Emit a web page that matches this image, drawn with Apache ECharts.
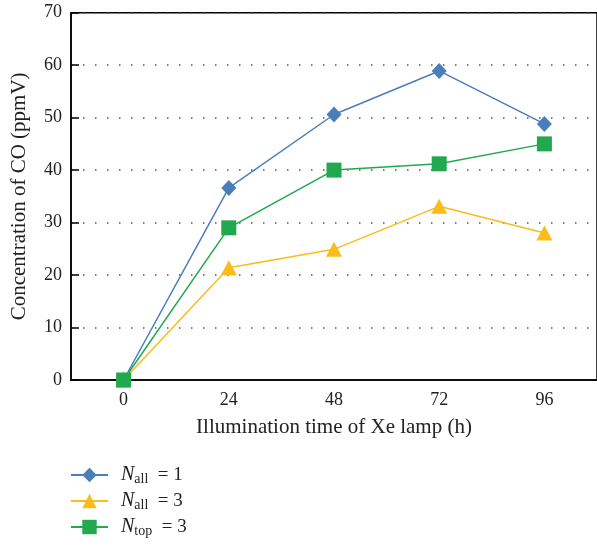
<!DOCTYPE html>
<html>
<head>
<meta charset="utf-8">
<script src="https://cdn.jsdelivr.net/npm/echarts@6/dist/echarts.min.js"></script>
<style>html,body{margin:0;padding:0;background:#fff;}#c{width:597px;height:548px;}</style>
</head>
<body>
<div id="c"></div>
<script>
const categories = ['0', '24', '48', '72', '96'];
const yTicks = [0, 10, 20, 30, 40, 50, 60, 70];
const seriesNames = ['N_all = 1', 'N_all = 3', 'N_top = 3'];
const nAll1 = [0, 36.6, 50.6, 58.9, 48.8];
const nAll3 = [0, 21.4, 24.9, 33.1, 28.0];
const nTop3 = [0, 29.0, 40.0, 41.2, 45.0];

const FONT = '"Liberation Serif", "DejaVu Serif", serif';
const colors = ['#4A7EBB', '#F9BC1B', '#22A84F'];
const symbols = ['diamond', 'triangle', 'rect'];
const sizes = [[15, 16], [16, 15], [15, 15]];
const values = [nAll1, nAll3, nTop3];

const chart = echarts.init(document.getElementById('c'));
chart.setOption({
  animation: false,
  backgroundColor: '#fff',
  grid: { left: 71, right: -6, top: 12.7, bottom: 168, show: true, borderColor: '#000', borderWidth: 1.5 },
  xAxis: {
    type: 'category',
    data: categories,
    boundaryGap: true,
    axisLine: { lineStyle: { color: '#000', width: 1.5 } },
    axisTick: { show: false },
    axisLabel: { color: '#222', fontFamily: FONT, fontSize: 18, margin: 11 },
    name: 'Illumination time of Xe lamp (h)',
    nameLocation: 'middle',
    nameGap: 37,
    nameTextStyle: { color: '#222', fontFamily: FONT, fontSize: 21 }
  },
  yAxis: {
    type: 'value',
    min: yTicks[0],
    max: yTicks[yTicks.length - 1],
    interval: 10,
    axisLine: { show: true, lineStyle: { color: '#000', width: 1.5 } },
    axisTick: { show: true, inside: true, length: 8, lineStyle: { color: '#000', width: 1.5 } },
    axisLabel: { color: '#222', fontFamily: FONT, fontSize: 18, margin: 9 },
    splitLine: { show: true, lineStyle: { color: '#555', width: 1.5, type: [1.5, 10.5] } },
    name: 'Concentration of CO (ppmV)',
    nameLocation: 'middle',
    nameGap: 41,
    nameTextStyle: { color: '#222', fontFamily: FONT, fontSize: 21 }
  },
  legend: {
    orient: 'vertical',
    left: 70,
    top: 464,
    padding: 0,
    height: 86,
    itemWidth: 37,
    itemHeight: 18,
    itemGap: 4,
    data: seriesNames,
    formatter: function (name) {
      const m = name.match(/^N_(\w+) = (\d+)$/);
      return '{n|N}{s|' + m[1] + '}{t|  = ' + m[2] + '}';
    },
    textStyle: {
      color: '#222',
      fontFamily: FONT,
      fontSize: 19,
      padding: [0, 0, 0, 8],
      rich: {
        n: { fontFamily: FONT, fontSize: 20, fontStyle: 'italic', color: '#222', lineHeight: 22 },
        s: { fontFamily: FONT, fontSize: 14, color: '#222', lineHeight: 22, padding: [8, 0, 0, 0] },
        t: { fontFamily: FONT, fontSize: 19, color: '#222', lineHeight: 22 }
      }
    }
  },
  series: seriesNames.map(function (nm, i) {
    return {
      name: nm,
      type: 'line',
      data: values[i],
      symbol: symbols[i],
      symbolSize: sizes[i],
      showAllSymbol: true,
      lineStyle: { color: colors[i], width: 1.5 },
      itemStyle: { color: colors[i] },
      z: 2 + i
    };
  })
});
</script>
</body>
</html>
